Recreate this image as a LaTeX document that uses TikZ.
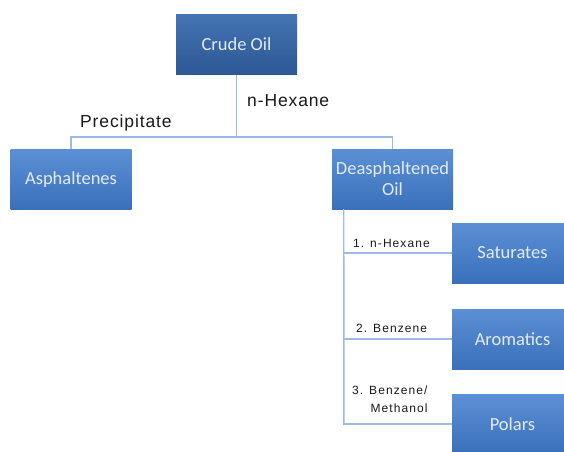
\documentclass[tikz,border=0pt]{standalone}
\usepackage{fontspec}
\setmainfont{Carlito}
\newfontfamily\labfont[LetterSpace=5]{Liberation Sans}
\newfontfamily\smallfont[LetterSpace=9]{Liberation Sans}
\usetikzlibrary{calc}
\definecolor{boxtop}{HTML}{5B90D6}
\definecolor{boxbot}{HTML}{3A70BA}
\definecolor{darktop}{HTML}{4474B4}
\definecolor{darkbot}{HTML}{2C5893}
\definecolor{linec}{HTML}{9DBBE6}
\definecolor{boxtext}{HTML}{E3EBF6}
\definecolor{labtext}{HTML}{1A1A1A}
\tikzset{
  blockbox/.style={minimum width=121pt, minimum height=60pt, inner sep=0pt,
    top color=boxtop, bottom color=boxbot, text=boxtext,
    font=\fontsize{18.5}{21}\selectfont, align=center},
  darkbox/.style={blockbox, top color=darktop, bottom color=darkbot},
  conn/.style={draw=linec, line width=1.3pt},
  biglab/.style={anchor=west, inner sep=0pt, text=labtext, font=\labfont\fontsize{17.5}{20}\selectfont},
  smalllab/.style={anchor=west, inner sep=0pt, text=labtext, font=\smallfont\fontsize{12}{18}\selectfont, align=right}
}
\begin{document}
\begin{tikzpicture}[x=1pt,y=-1pt]
\clip (0,0) rectangle (564,451);
\fill[white] (0,0) rectangle (564,451);
\node[darkbox] (crude) at (236.5,44.5) {Crude Oil};
\node[blockbox] (asph) at (71,179.5) {Asphaltenes};
\node[blockbox] (deasph) at (392.5,179) {Deasphaltened\\Oil};
\node[blockbox] (sat) at (512.5,253) {Saturates};
\node[blockbox] (aro) at (512.5,339) {Aromatics};
\node[blockbox] (pol) at (512.5,424) {Polars};
\coordinate (junc) at (236.5,137);
\coordinate (trunk) at ($(deasph.south west)+(12,0)$);
\coordinate (trunkend) at (344,425);
\draw[conn] (crude.south) -- (junc);
\draw[conn] (asph.north) |- (junc) -| (deasph.north);
\draw[conn] (trunk) -- (trunkend);
\draw[conn] (trunk) |- (sat.west);
\draw[conn] (trunk) |- (aro.west);
\draw[conn] (trunk) |- (pol.west);
\node[biglab] (lhex) at (247,101) {n-Hexane};
\node[biglab] (lprec) at (80,123) {Precipitate};
\node[smalllab] (l1) at (353,243) {1. n-Hexane};
\node[smalllab] (l2) at (356,328) {2. Benzene};
\node[smalllab] (l3) at (352,399) {3. Benzene/\\Methanol};
\end{tikzpicture}
\end{document}
